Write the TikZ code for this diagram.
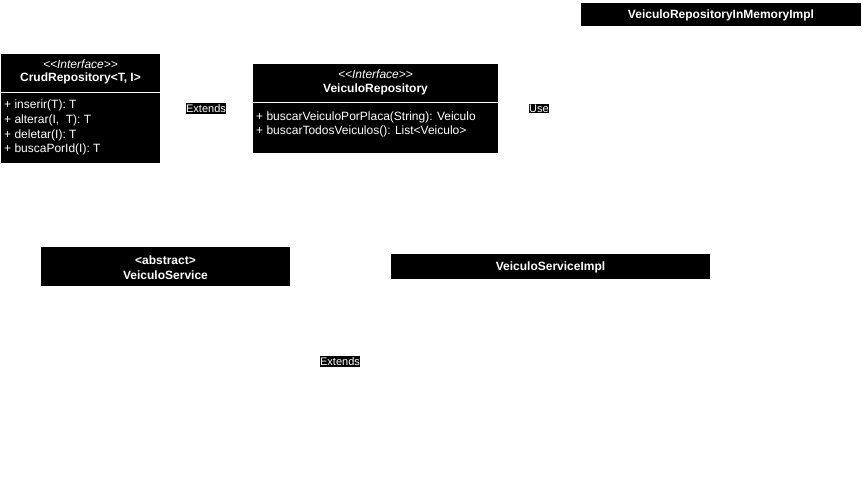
\documentclass[tikz,border=0pt]{standalone}
\usepackage{fontspec}
\setmainfont[Ligatures={NoCommon}]{Liberation Sans}
\begin{document}
\begin{tikzpicture}
[x=1pt, y=-1pt, font=\fontsize{12}{14}\selectfont,
classbox/.style={rectangle, fill=black, draw=none, inner sep=0pt, anchor=north west},
classname/.style={text=white, inner sep=0pt, font=\fontsize{12}{14}\selectfont\bfseries},
stereo/.style={text=white, inner sep=0pt, font=\fontsize{12}{14}\selectfont\itshape},
member/.style={text=white, inner sep=0pt, anchor=west},
divider/.style={white, line width=1pt},
edgelabel/.style={fill=black, text=white, inner xsep=0pt, inner ysep=1pt, font=\fontsize{11}{13}\selectfont}]

\useasboundingbox (0,0) rectangle (862,480);

% CrudRepository
\node[classbox, minimum width=159pt, minimum height=109pt] (crud) at (1,54) {};
\draw[divider] (1,92) -- (160,92);
\node[stereo] (crudst) at (80.5,64) {{<}{<}Interface{>}{>}};
\node[classname] (crudname) at (80.5,78) {CrudRepository<T, I>};
\node[member] (crudm0) at (4,105) {+ inserir(T): T};
\node[member] (crudm1) at (4,120) {+ alterar(I,\ \ T): T};
\node[member] (crudm2) at (4,135) {+ deletar(I): T};
\node[member] (crudm3) at (4,149) {+ buscaPorId(I): T};

% VeiculoRepository
\node[classbox, minimum width=245pt, minimum height=89pt] (repo) at (253,64) {};
\draw[divider] (253,102) -- (498,102);
\node[stereo] (repost) at (375.5,74) {{<}{<}Interface{>}{>}};
\node[classname] (reponame) at (375.5,89) {VeiculoRepository};
\node[member] (repom0) at (256,117) {+ buscarVeiculoPorPlaca(String): Veiculo};
\node[member] (repom1) at (256,131) {+ buscarTodosVeiculos(): List<Veiculo>};

% VeiculoRepositoryInMemoryImpl
\node[classbox, minimum width=280pt, minimum height=23pt] (memimpl) at (581,3) {};
\node[classname] (memname) at (721,15) {VeiculoRepositoryInMemoryImpl};

% VeiculoService
\node[classbox, minimum width=249pt, minimum height=39pt] (service) at (41,247) {};
\node[classname] (servicest) at (165.5,260) {<abstract>};
\node[classname] (servicename) at (165.5,275) {VeiculoService};

% VeiculoServiceImpl
\node[classbox, minimum width=319pt, minimum height=25pt] (serviceimpl) at (391,254) {};
\node[classname] (serviceimplname) at (550.5,267.5) {VeiculoServiceImpl};

\node[edgelabel] (extends0) at (206,108.5) {Extends};
\node[edgelabel] (use0) at (539,108.5) {Use};
\node[edgelabel] (extends1) at (340,361.5) {Extends};
\end{tikzpicture}
\end{document}
